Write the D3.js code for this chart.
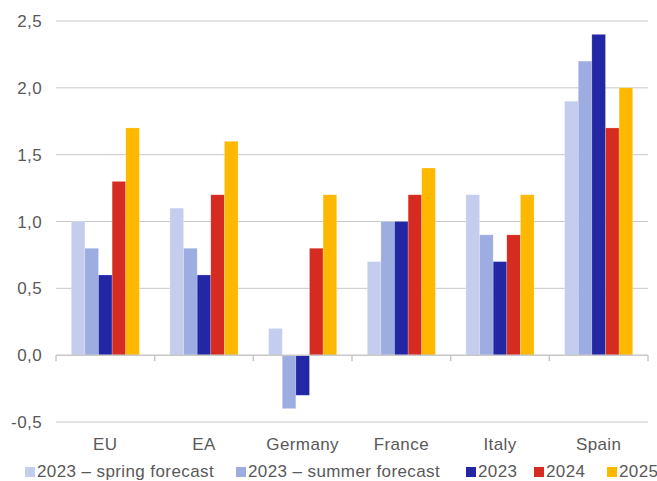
<!DOCTYPE html>
<html lang="en">
<head>
<meta charset="UTF-8">
<title>Forecast chart</title>
<script src="https://d3js.org/d3.v7.min.js"></script>
<style>
  body { margin: 0; background: #fff; }
  text { font-family: "Liberation Sans", Arial, sans-serif; fill: #595959; font-size: 17px; letter-spacing: 0.4px; }
</style>
</head>
<body>
<div id="chart"></div>
<script>
// data
var countries = ["EU", "EA", "Germany", "France", "Italy", "Spain"];
var seriesNames = ["2023 – spring forecast", "2023 – summer forecast", "2023", "2024", "2025"];
var spring2023 = [1.0, 1.1, 0.2, 0.7, 1.2, 1.9];
var summer2023 = [0.8, 0.8, -0.4, 1.0, 0.9, 2.2];
var y2023 = [0.6, 0.6, -0.3, 1.0, 0.7, 2.4];
var y2024 = [1.3, 1.2, 0.8, 1.2, 0.9, 1.7];
var y2025 = [1.7, 1.6, 1.2, 1.4, 1.2, 2.0];
var yTicks = [-0.5, 0, 0.5, 1.0, 1.5, 2.0, 2.5];
var colors = ["#c5cdee", "#9eade1", "#2327a6", "#d62b20", "#ffb800"];

var allSeries = [spring2023, summer2023, y2023, y2024, y2025];

var W = 657, H = 481;
var margin = { top: 21, right: 9, bottom: 59, left: 56 };
var width = W - margin.left - margin.right,
    height = H - margin.top - margin.bottom;

var svg = d3.select("#chart").append("svg")
    .attr("width", W).attr("height", H);
var g = svg.append("g")
    .attr("transform", "translate(" + margin.left + "," + margin.top + ")");

var x0 = d3.scaleBand().domain(countries).range([0, width]).paddingInner(0).paddingOuter(0);
var groupW = x0.bandwidth() * 0.69;
var x1 = d3.scaleBand().domain(d3.range(seriesNames.length))
    .range([(x0.bandwidth() - groupW) / 2, (x0.bandwidth() + groupW) / 2]);

var y = d3.scaleLinear().domain([-0.5, 2.5]).range([height, 0]);
var fmt = function (d) { return d3.format(".1f")(d).replace("−", "-").replace(".", ","); };

// gridlines
g.append("g").selectAll("line")
    .data(yTicks.filter(function (d) { return d !== 0; }))
    .enter().append("line")
    .attr("x1", 0).attr("x2", width)
    .attr("y1", function (d) { return y(d); })
    .attr("y2", function (d) { return y(d); })
    .attr("stroke", "#c8c8c8").attr("stroke-width", 1);

// y labels
g.append("g").selectAll("text")
    .data(yTicks).enter().append("text")
    .attr("x", -14)
    .attr("y", function (d) { return y(d); })
    .attr("dy", "0.36em")
    .attr("text-anchor", "end")
    .text(fmt);

// bars
allSeries.forEach(function (vals, si) {
    g.append("g").selectAll("rect")
        .data(countries).enter().append("rect")
        .attr("x", function (c) { return x0(c) + x1(si); })
        .attr("width", x1.bandwidth())
        .attr("y", function (c, i) { return y(Math.max(0, vals[i])); })
        .attr("height", function (c, i) { return Math.abs(y(vals[i]) - y(0)); })
        .attr("fill", colors[si])
        .attr("stroke", "#ffffff").attr("stroke-opacity", 0.35).attr("stroke-width", 0.6);
});

// zero axis with tick marks
var axis = g.append("g").attr("transform", "translate(0," + y(0) + ")");
axis.append("line").attr("x1", 0).attr("x2", width)
    .attr("stroke", "#c8c8c8").attr("stroke-width", 1.5);
axis.selectAll(".tk").data(countries.concat(["end"])).enter().append("line")
    .attr("x1", function (c, i) { return i * x0.bandwidth(); })
    .attr("x2", function (c, i) { return i * x0.bandwidth(); })
    .attr("y1", 0).attr("y2", 6)
    .attr("stroke", "#c8c8c8").attr("stroke-width", 1.5);

// category labels
g.append("g").selectAll("text")
    .data(countries).enter().append("text")
    .attr("x", function (c) { return x0(c) + x0.bandwidth() / 2; })
    .attr("y", height + 28)
    .attr("text-anchor", "middle")
    .text(function (c) { return c; });

// legend
var legendX = [25, 236, 466, 534, 607];
var legend = svg.append("g").attr("transform", "translate(0,477)");
seriesNames.forEach(function (name, i) {
    legend.append("rect")
        .attr("x", legendX[i]).attr("y", -10)
        .attr("width", 10).attr("height", 10)
        .attr("fill", colors[i]);
    legend.append("text")
        .attr("x", legendX[i] + 12).attr("y", 0)
        .text(name);
});
</script>
</body>
</html>
